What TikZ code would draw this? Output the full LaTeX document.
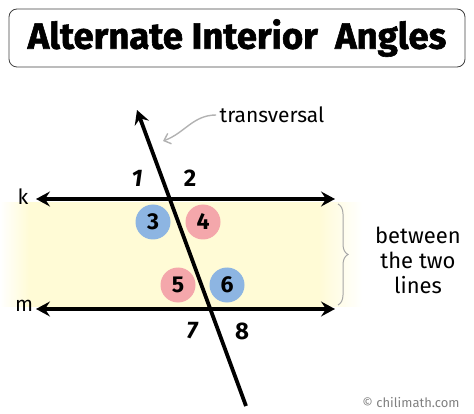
\documentclass[tikz,border=0pt]{standalone}
\usepackage{fontspec}
\setmainfont{Fira Sans}
\newfontfamily\titlefont{Fira Sans}[BoldFeatures={FakeBold=1.6}]
\usetikzlibrary{arrows.meta,decorations.pathreplacing,positioning}
\definecolor{bandyellow}{HTML}{FFFBD6}
\definecolor{angleblue}{HTML}{8DB5E2}
\definecolor{anglepink}{HTML}{F4A7AB}
\pgfdeclarehorizontalshading{bandshade}{100bp}{color(0bp)=(white); color(25bp)=(white);
  color(29bp)=(bandyellow); color(69bp)=(bandyellow); color(75bp)=(white); color(100bp)=(white)}
\tikzset{
  titlebox/.style   = {draw=black!75, line width=0.8pt, rounded corners=8pt,
                       minimum width=456pt, minimum height=58pt,
                       font=\titlefont\bfseries\fontsize{36.5}{36.5}\selectfont},
  mainline/.style   = {line width=3.8pt,
                       {Stealth[length=14pt,width=15pt,inset=5pt]}-{Stealth[length=14pt,width=15pt,inset=5pt]}},
  rayline/.style    = {line width=3.8pt, -{Stealth[length=14pt,width=15pt,inset=5pt]}},
  anglecirc/.style  = {circle, minimum size=35pt, inner sep=0pt,
                       font=\bfseries\fontsize{23}{23}\selectfont},
  blueangle/.style  = {anglecirc, fill=angleblue},
  pinkangle/.style  = {anglecirc, fill=anglepink},
  anglelabel/.style = {font=\bfseries\fontsize{24}{24}\selectfont},
  linename/.style   = {font=\fontsize{21}{21}\selectfont},
  note/.style       = {font=\fontsize{22}{25}\selectfont, align=center}
}

\begin{document}
\begin{tikzpicture}[x=1pt, y=-1pt]
  \useasboundingbox (0,0) rectangle (474,414);

  % title
  \node[titlebox] (title) at (237,38) {Alternate Interior\ \ Angles};

  % region between the lines
  \shade[shading=bandshade] (0,203) rectangle (362,306);

  % angle circles
  \node[blueangle] (a3) at (153,222) {3};
  \node[pinkangle] (a4) at (203,222) {4};
  \node[pinkangle] (a5) at (178,285) {5};
  \node[blueangle] (a6) at (227,285) {6};

  % parallel lines and the transversal
  \coordinate (kL) at (36,199);
  \coordinate (kR) at (335,199);
  \coordinate (mL) at (36,309);
  \coordinate (mR) at (335,309);
  \coordinate (tT) at (137,110);
  \coordinate (tB) at (246,406);
  \draw[mainline] (kL) -- (kR);
  \draw[mainline] (mL) -- (mR);
  \draw[rayline] (tB) -- (tT);

  \node[linename] (k) at (23,197) {k};
  \node[linename] (m) at (24,306) {m};

  % outer angles
  \node[anglelabel] (a1) at (137,178) {\itshape 1};
  \node[anglelabel] (a2) at (190,178) {2};
  \node[anglelabel] (a7) at (192,331) {\itshape 7};
  \node[anglelabel] (a8) at (242,331) {8};

  % transversal label
  \node[linename] (trans) at (272,115) {transversal};
  \coordinate (tpoint) at (163,141);
  \draw[gray!60, line width=1.4pt, -{Straight Barb[length=6pt,width=11pt]}]
    (trans.west) to[out=180,in=20] (tpoint);

  % brace and note
  \coordinate (bTop) at (338,204);
  \coordinate (bBot) at (338,305);
  \draw[gray!70, line width=1pt, decorate,
        decoration={brace, amplitude=10pt}] (bTop) -- (bBot);
  \node[note] (between) at (418,260) {between\\the two\\lines};

  \node[font=\fontsize{13}{13}\selectfont, text=gray] (credit) at (411,403) {© chilimath.com};
\end{tikzpicture}
\end{document}
